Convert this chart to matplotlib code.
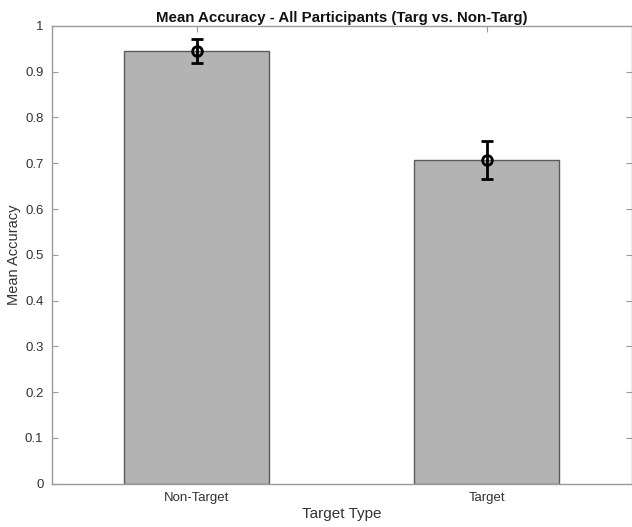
import matplotlib
matplotlib.use("Agg")
import matplotlib.pyplot as plt

categories = ["Non-Target", "Target"]
mean_accuracy = [0.945, 0.707]
sem_accuracy = [0.027, 0.041]
y_ticks = [0, 0.1, 0.2, 0.3, 0.4, 0.5, 0.6, 0.7, 0.8, 0.9, 1]
y_tick_labels = ["0", "0.1", "0.2", "0.3", "0.4", "0.5", "0.6", "0.7", "0.8", "0.9", "1"]

plt.rcParams["font.family"] = ["Liberation Sans", "DejaVu Sans"]

fig = plt.figure(figsize=(6.32, 5.27), dpi=100)
ax = fig.add_axes([0.082, 0.082, 0.918, 0.869])

x = [1, 2]
ax.bar(x, mean_accuracy, width=0.5, color="#b3b3b3", edgecolor="#5a5a5a",
       linewidth=1.0, zorder=2)
ax.errorbar(x, mean_accuracy, yerr=sem_accuracy, fmt="o", color="black",
            ecolor="black", elinewidth=2, capsize=4, capthick=2,
            markersize=7, markerfacecolor="none", markeredgewidth=2, zorder=3)

ax.set_xlim(0.5, 2.5)
ax.set_ylim(0, 1)
ax.set_xticks(x)
ax.set_xticklabels(categories)
ax.set_yticks(y_ticks)
ax.set_yticklabels(y_tick_labels)

spine_color = "#9a9a9a"
for s in ax.spines.values():
    s.set_color(spine_color)
    s.set_linewidth(1.0)
ax.tick_params(direction="in", length=4, width=0.8, color=spine_color,
               labelcolor="#333333", labelsize=9.5, top=True, right=True)
ax.tick_params(axis="x", pad=6)
ax.tick_params(axis="y", pad=6)

ax.set_title("Mean Accuracy - All Participants (Targ vs. Non-Targ)",
             fontsize=10.8, fontweight="bold", color="#111111", pad=3)
ax.set_xlabel("Target Type", fontsize=11, color="#333333", labelpad=2)
ax.set_ylabel("Mean Accuracy", fontsize=10.5, color="#333333", labelpad=3)

fig.savefig("out.png", dpi=100)
